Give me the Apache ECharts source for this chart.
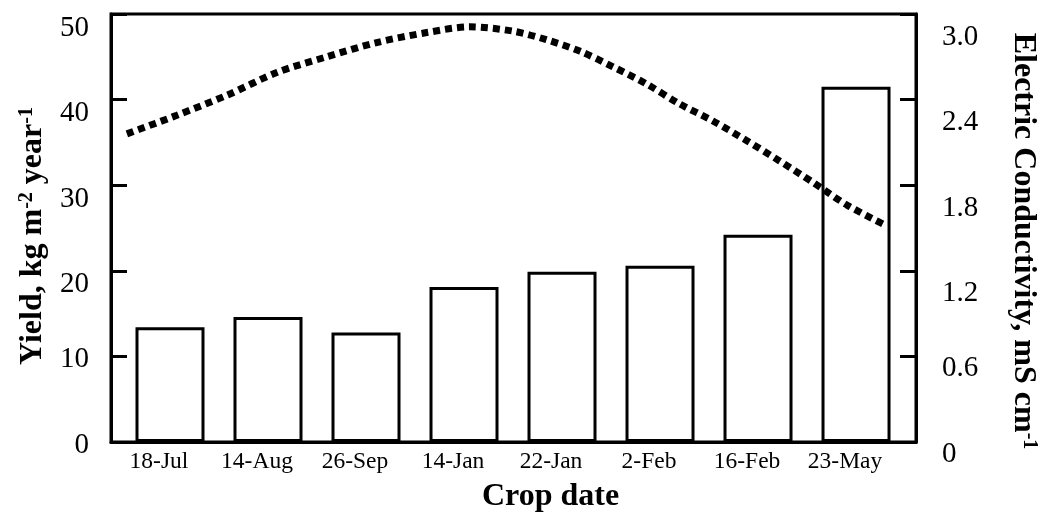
<!DOCTYPE html>
<html>
<head>
<meta charset="utf-8">
<script src="https://cdn.jsdelivr.net/npm/echarts@6/dist/echarts.min.js"></script>
<style>
html,body{margin:0;padding:0;background:#fff;}
#chart{width:1053px;height:518px;}
</style>
</head>
<body>
<div id="chart"></div>
<script>
const categories = ['18-Jul','14-Aug','26-Sep','14-Jan','22-Jan','2-Feb','16-Feb','23-May'];
const yieldValues = [13.4, 14.6, 12.8, 18.1, 19.9, 20.6, 24.2, 41.5];
// EC curve points: position along the crop axis (category index units) and EC value
const ecPosition = [-0.44, 0.07, 0.58, 1.09, 1.60, 2.11, 2.62, 3.06, 3.50, 3.84, 4.18, 4.52, 4.86, 5.20, 5.54, 5.89, 6.22, 6.56, 6.91, 7.30];
const ecValues   = [2.16, 2.29, 2.43, 2.59, 2.70, 2.80, 2.87, 2.91, 2.88, 2.82, 2.74, 2.63, 2.51, 2.37, 2.25, 2.11, 1.97, 1.82, 1.66, 1.52];
const yieldTicks = [0, 10, 20, 30, 40, 50];
const ecTicks = [0, 0.6, 1.2, 1.8, 2.4, 3.0];

const serif = 'Liberation Serif';
const chart = echarts.init(document.getElementById('chart'), null, {renderer: 'canvas'});

const barData = yieldValues.map((v, i) => [i, v]);
const lineData = ecPosition.map((x, i) => [x, ecValues[i]]);

chart.setOption({
  backgroundColor: '#fff',
  animation: false,
  grid: {
    left: 111, right: 137, top: 14, bottom: 74,
    show: true, borderColor: '#000', borderWidth: 3, backgroundColor: 'transparent'
  },
  xAxis: {
    type: 'value',
    min: -0.602, max: 7.612,
    splitLine: {show: false},
    axisTick: {show: false},
    axisLine: {show: true, onZero: false, lineStyle: {color: '#000', width: 3}},
    axisLabel: {
      customValues: categories.map((c, i) => i),
      formatter: v => categories[Math.round(v)],
      fontFamily: serif, fontSize: 23.5, color: '#000', margin: 8,
      padding: [0, 22, 0, 0]
    },
    name: 'Crop date',
    nameLocation: 'middle',
    nameGap: 39,
    nameTextStyle: {
      fontFamily: serif, fontSize: 32, fontWeight: 'bold', color: '#000',
      padding: [0, 0, 0, 74]
    }
  },
  yAxis: [
    {
      type: 'value', min: 0, max: 50, interval: 10,
      position: 'left',
      splitLine: {show: false},
      axisLine: {show: true, onZero: false, lineStyle: {color: '#000', width: 3}},
      axisTick: {show: true, inside: true, length: 16, lineStyle: {color: '#000', width: 3}},
      axisLabel: {
        fontFamily: serif, fontSize: 29, color: '#000', margin: 22,
        formatter: v => (v >= 20 ? '{lo|' + v + '}' : '{n|' + v + '}'),
        rich: {
          lo: {fontFamily: serif, fontSize: 29, color: '#000', padding: [28, 0, 0, 0]},
          n: {fontFamily: serif, fontSize: 29, color: '#000', padding: [6, 0, 0, 0]}
        }
      },
      name: '{b|Yield, kg m}{s|-2}{b| year}{s|-1}',
      nameLocation: 'middle',
      nameGap: 62,
      nameRotate: 90,
      nameTextStyle: {
        padding: [0, 16, 0, 0],
        rich: {
          b: {fontFamily: serif, fontSize: 32, fontWeight: 'bold', color: '#000'},
          s: {fontFamily: serif, fontSize: 20, fontWeight: 'bold', color: '#000', verticalAlign: 'top'}
        }
      }
    },
    {
      type: 'value', min: 0, max: 3, interval: 0.6,
      position: 'right',
      splitLine: {show: false},
      axisLine: {show: true, onZero: false, lineStyle: {color: '#000', width: 3}},
      axisTick: {show: true, inside: true, length: 16, lineStyle: {color: '#000', width: 3}},
      axisLabel: {
        fontFamily: serif, fontSize: 29, color: '#000', margin: 26,
        formatter: v => {
          const t = v === 0 ? '0' : v.toFixed(1);
          return v >= 1.2 ? '{lo|' + t + '}' : '{n|' + t + '}';
        },
        rich: {
          lo: {fontFamily: serif, fontSize: 29, color: '#000', padding: [46, 0, 0, 0]},
          n: {fontFamily: serif, fontSize: 29, color: '#000', padding: [24, 0, 0, 0]}
        }
      },
      name: '{b|Electric Conductivity, mS cm}{s|-1}',
      nameLocation: 'middle',
      nameGap: 91,
      nameRotate: -90,
      nameTextStyle: {
        padding: [0, 0, 0, 26],
        rich: {
          b: {fontFamily: serif, fontSize: 32, fontWeight: 'bold', color: '#000'},
          s: {fontFamily: serif, fontSize: 20, fontWeight: 'bold', color: '#000', verticalAlign: 'top'}
        }
      }
    }
  ],
  series: [
    {
      type: 'bar',
      xAxisIndex: 0, yAxisIndex: 0,
      data: barData,
      barWidth: 69,
      itemStyle: {color: '#fff', borderColor: '#000', borderWidth: 3},
      z: 2
    },
    {
      type: 'line',
      xAxisIndex: 0, yAxisIndex: 1,
      data: lineData,
      smooth: 0.3,
      showSymbol: false,
      symbol: 'none',
      lineStyle: {color: '#000', width: 7, type: [7, 5], cap: 'butt'},
      z: 3
    }
  ]
});
</script>
</body>
</html>
